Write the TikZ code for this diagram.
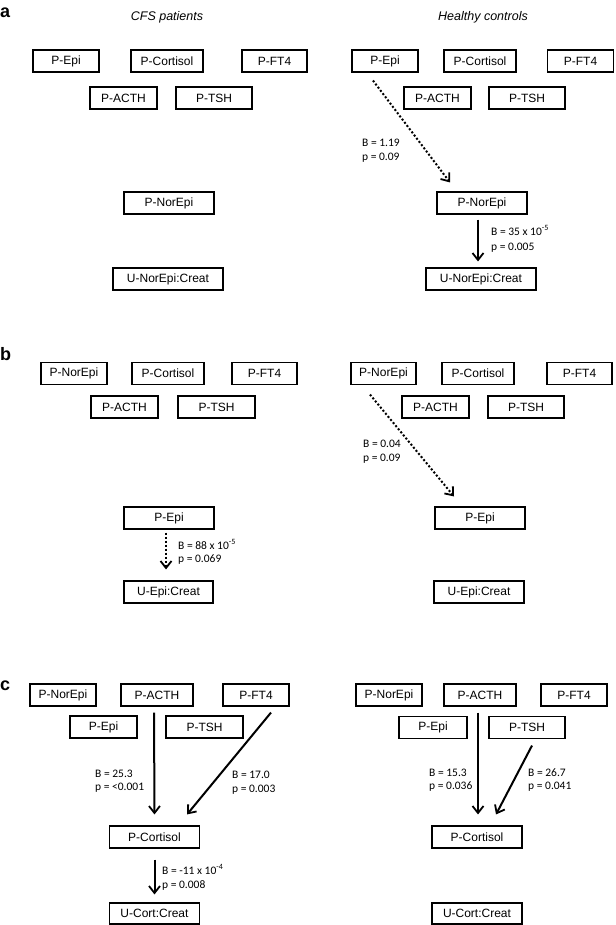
\documentclass[tikz,border=0pt]{standalone}
\usepackage{fontspec}
\setmainfont{Liberation Sans}
\newfontfamily\lblfont{Carlito}
\usetikzlibrary{arrows.meta,calc}
\begin{document}
\begin{tikzpicture}[x=1pt,y=-1pt,
  box/.style={draw, line width=1.1pt, inner sep=0pt, minimum height=22pt, font=\fontsize{12}{14}\selectfont},
  lbl/.style={anchor=west, align=left, inner sep=0pt, font=\lblfont\fontsize{11.5}{13.5}\selectfont},
  ttl/.style={inner sep=0pt, font=\itshape\fontsize{12.5}{14}\selectfont},
  pnl/.style={anchor=base west, inner sep=0pt, font=\bfseries\fontsize{18}{20}\selectfont},
  sarr/.style={line width=2pt, -{Straight Barb[length=7pt,width=11pt,line width=1.8pt]}},
  darr/.style={line width=2pt, dotted, -{Straight Barb[length=7pt,width=11pt,line width=1.8pt]}},
]
\useasboundingbox (0,0) rectangle (615,925);

% titles and panel letters
\node[ttl] (t1) at (167,17) {CFS patients};
\node[ttl] (t2) at (483,17) {Healthy controls};
\node[pnl] (la) at (0,18) {a};
\node[pnl] (lb) at (0,360) {b};
\node[pnl] (lc) at (0,690) {c};

% ---------- panel a, left
\node[box, minimum width=66pt] (aLEpi) at (66,61) {P-Epi};
\node[box, minimum width=72pt] (aLCort) at (167,61) {P-Cortisol};
\node[box, minimum width=65pt] (aLFT4) at (274.5,61) {P-FT4};
\node[box, minimum width=67pt] (aLACTH) at (123.5,98) {P-ACTH};
\node[box, minimum width=76pt] (aLTSH) at (214,98) {P-TSH};
\node[box, minimum width=90pt] (aLNor) at (169,203) {P-NorEpi};
\node[box, minimum width=110pt] (aLU) at (168,279) {U-NorEpi:Creat};

% ---------- panel a, right
\node[box, minimum width=66pt] (aREpi) at (385,61) {P-Epi};
\node[box, minimum width=72pt] (aRCort) at (480,61) {P-Cortisol};
\node[box, minimum width=66pt] (aRFT4) at (580.5,61) {P-FT4};
\node[box, minimum width=67pt] (aRACTH) at (437.5,98) {P-ACTH};
\node[box, minimum width=76pt] (aRTSH) at (527,98) {P-TSH};
\node[box, minimum width=90pt] (aRNor) at (482,203) {P-NorEpi};
\node[box, minimum width=110pt] (aRU) at (481,279) {U-NorEpi:Creat};

\draw[darr] ($(aREpi.south)+(-12,8)$) -- ($(aRNor.north)+(-32,-9)$);
\draw[sarr] ($(aRNor.south)+(-4,5)$) -- ($(aRU.north)+(-3,-6)$);
\node[lbl] (aRl1) at (362,150.5) {B = 1.19\\p = 0.09};
\node[lbl] (aRl2) at (491,239) {B = 35 x 10\textsuperscript{-5}\\[2pt]p = 0.005};

% ---------- panel b, left
\node[box, minimum width=66pt] (bLNor) at (74,373.5) {P-NorEpi};
\node[box, minimum width=72pt] (bLCort) at (168,373.5) {P-Cortisol};
\node[box, minimum width=65pt] (bLFT4) at (264.5,373.5) {P-FT4};
\node[box, minimum width=67pt] (bLACTH) at (124.5,407) {P-ACTH};
\node[box, minimum width=77pt] (bLTSH) at (216.5,407) {P-TSH};
\node[box, minimum width=90pt] (bLEpi) at (169,518) {P-Epi};
\node[box, minimum width=89pt] (bLU) at (168.5,592) {U-Epi:Creat};

\draw[darr] ($(bLEpi.south)+(-3,3)$) -- ($(bLU.north)+(-2.5,-11)$);
\node[lbl] (bLl1) at (178,552) {B = 88 x 10\textsuperscript{-5}\\p = 0.069};

% ---------- panel b, right
\node[box, minimum width=65pt] (bRNor) at (383.5,373.5) {P-NorEpi};
\node[box, minimum width=72pt] (bRCort) at (478,373.5) {P-Cortisol};
\node[box, minimum width=65pt] (bRFT4) at (579.5,373.5) {P-FT4};
\node[box, minimum width=67pt] (bRACTH) at (435.5,407) {P-ACTH};
\node[box, minimum width=76pt] (bRTSH) at (526,407) {P-TSH};
\node[box, minimum width=90pt] (bREpi) at (480,518) {P-Epi};
\node[box, minimum width=90pt] (bRU) at (479,592) {U-Epi:Creat};

\draw[darr] ($(bRNor.south)+(-13.5,9.5)$) -- ($(bREpi.north)+(-26,-10)$);
\node[lbl] (bRl1) at (363,451.5) {B = 0.04\\p = 0.09};

% ---------- panel c, left
\node[box, minimum width=66pt] (cLNor) at (63,695) {P-NorEpi};
\node[box, minimum width=72pt] (cLACTH) at (157,695) {P-ACTH};
\node[box, minimum width=66pt] (cLFT4) at (256,695) {P-FT4};
\node[box, minimum width=67pt] (cLEpi) at (103.5,727) {P-Epi};
\node[box, minimum width=77pt] (cLTSH) at (204.5,727) {P-TSH};
\node[box, minimum width=90pt] (cLCort) at (154.5,837) {P-Cortisol};
\node[box, minimum width=90pt, minimum height=21pt] (cLU) at (154.5,913.5) {U-Cort:Creat};

\draw[sarr] ($(cLACTH.south)+(-3,6)$) -- ($(cLCort.north)+(0,-11)$);
\draw[sarr] ($(cLFT4.south)+(15,6)$) -- ($(cLCort.north)+(32.5,-11)$);
\draw[sarr] ($(cLCort.south)+(0,11)$) -- ($(cLU.north)+(0,-8)$);
\node[lbl] (cLl1) at (95,781) {B = 25.3\\p = <0.001};
\node[lbl] (cLl2) at (232,782.5) {B = 17.0\\p = 0.003};
\node[lbl] (cLl3) at (162,877.5) {B = -11 x 10\textsuperscript{-4}\\[1pt]p = 0.008};

% ---------- panel c, right
\node[box, minimum width=66pt] (cRNor) at (389,695) {P-NorEpi};
\node[box, minimum width=72pt] (cRACTH) at (480,695) {P-ACTH};
\node[box, minimum width=66pt] (cRFT4) at (574,695) {P-FT4};
\node[box, minimum width=68pt] (cREpi) at (433,727.5) {P-Epi};
\node[box, minimum width=76pt] (cRTSH) at (527,727.5) {P-TSH};
\node[box, minimum width=90pt] (cRCort) at (477,837) {P-Cortisol};
\node[box, minimum width=90pt, minimum height=21pt] (cRU) at (477,913.5) {U-Cort:Creat};

\draw[sarr] ($(cRACTH.south)+(-2,6)$) -- ($(cRCort.north)+(1,-11)$);
\draw[sarr] ($(cRTSH.south)+(5,6.5)$) -- ($(cRCort.north)+(19,-11)$);
\node[lbl] (cRl1) at (429,780) {B = 15.3\\p = 0.036};
\node[lbl] (cRl2) at (528,780) {B = 26.7\\p = 0.041};
\end{tikzpicture}
\end{document}
